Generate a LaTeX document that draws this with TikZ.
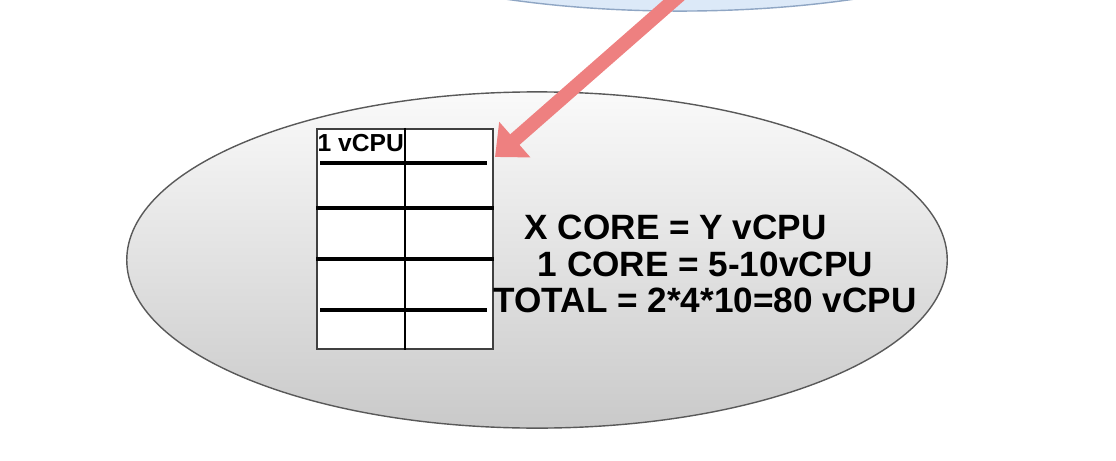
\documentclass[tikz,border=0pt]{standalone}
\usepackage{fontspec}
\setmainfont{Liberation Sans}
\usetikzlibrary{shapes.geometric,arrows.meta,calc}
\definecolor{cloudfill}{HTML}{DCE9F8}
\definecolor{cloudline}{HTML}{8FA6C4}
\definecolor{arrowred}{HTML}{EE8080}
\tikzset{
  bigtext/.style={font=\bfseries\fontsize{10}{12}\selectfont, anchor=base west, inner sep=0},
  celltext/.style={font=\bfseries\fontsize{7}{8}\selectfont, anchor=base west, inner sep=0},
  rowline/.style={line width=1pt, black},
  bigarrow/.style={draw=arrowred, line width=4pt,
    -{Triangle[length=7.5pt,width=13pt,fill=arrowred]}}
}
\begin{document}
\begin{tikzpicture}[x=0.01cm,y=-0.01cm]
\useasboundingbox (0,0) rectangle (1116,461);
\clip (0,0) rectangle (1116,461);
% blue ellipse (mostly outside the frame)
\node[ellipse, draw=cloudline, line width=0.4pt, fill=cloudfill,
      minimum width=8cm, minimum height=2.4cm, inner sep=0] (cloud) at (680,-109) {};
% gray ellipse
\node[ellipse, draw=black!65, line width=0.4pt, top color=gray!4, bottom color=gray!42,
      minimum width=8.2cm, minimum height=3.36cm, inner sep=0] (host) at (537,260) {};
% table
\node[draw=black!75, fill=white, line width=0.5pt, minimum width=1.76cm,
      minimum height=2.2cm, inner sep=0, anchor=north west] (tbl) at (316,128) {};
\draw[line width=0.6pt] (tbl.north) -- (tbl.south);
\draw[rowline] (320,163) -- (487,163);
\draw[rowline] (tbl.west |- 0,208) -- (tbl.east |- 0,208);
\draw[rowline] (tbl.west |- 0,259) -- (tbl.east |- 0,259);
\draw[rowline] (320,310) -- (487,310);
\node[celltext] (cell) at (317,152) {1 vCPU};
% texts
\node[bigtext] (t1) at (524,239) {X CORE = Y vCPU};
\node[bigtext] (t2) at (537,276) {1 CORE = 5-10vCPU};
\node[bigtext] (t3) at (493,312) {TOTAL = 2*4*10=80 vCPU};
% arrow
\coordinate (src) at (690,-14);
\coordinate (tip) at (495,157);
\draw[bigarrow] (src) -- (tip);
\end{tikzpicture}
\end{document}
